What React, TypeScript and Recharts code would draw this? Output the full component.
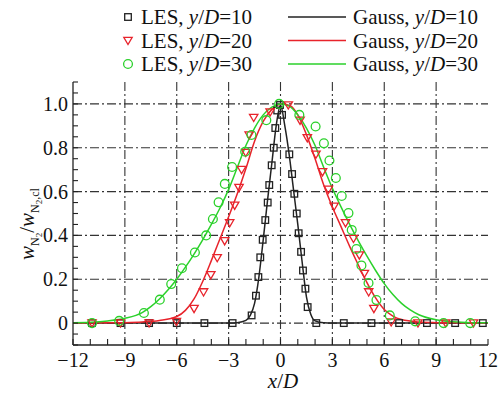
import React from "react";
import {
  ComposedChart, Line, Scatter, XAxis, YAxis, CartesianGrid,
} from "recharts";

// LES samples, x/D vs normalised N2 mass fraction
const les10 = [
  { x: -10.9, y: 0 }, { x: -9.25, y: 0 }, { x: -7.6, y: 0 }, { x: -6.0, y: 0 },
  { x: -4.4, y: 0 }, { x: -2.77, y: 0 }, { x: -1.67, y: 0.035 }, { x: -1.42, y: 0.125 },
  { x: -1.28, y: 0.21 }, { x: -1.17, y: 0.3 }, { x: -1.03, y: 0.38 }, { x: -0.88, y: 0.47 },
  { x: -0.74, y: 0.55 }, { x: -0.65, y: 0.63 }, { x: -0.51, y: 0.72 }, { x: -0.39, y: 0.8 },
  { x: -0.3, y: 0.89 }, { x: -0.19, y: 0.97 }, { x: -0.03, y: 0.995 }, { x: 0.09, y: 0.95 },
  { x: 0.51, y: 0.77 }, { x: 0.67, y: 0.68 }, { x: 0.8, y: 0.59 }, { x: 0.94, y: 0.5 },
  { x: 1.05, y: 0.41 }, { x: 1.19, y: 0.325 }, { x: 1.3, y: 0.24 }, { x: 1.44, y: 0.157 },
  { x: 1.57, y: 0.073 }, { x: 2.07, y: 0 }, { x: 3.66, y: 0 }, { x: 5.26, y: 0 },
  { x: 6.86, y: 0 }, { x: 8.47, y: 0 }, { x: 10.1, y: 0 }, { x: 11.7, y: 0 },
];
const les20 = [
  { x: -10.9, y: 0 }, { x: -9.25, y: 0 }, { x: -7.6, y: 0 }, { x: -6.02, y: 0.007 },
  { x: -5.0, y: 0.066 }, { x: -4.45, y: 0.142 }, { x: -4.03, y: 0.22 }, { x: -3.66, y: 0.298 },
  { x: -3.23, y: 0.375 }, { x: -2.94, y: 0.457 }, { x: -2.65, y: 0.537 }, { x: -2.4, y: 0.618 },
  { x: -2.25, y: 0.7 }, { x: -2.01, y: 0.778 }, { x: -1.81, y: 0.858 }, { x: -1.55, y: 0.938 },
  { x: -0.6, y: 0.963 }, { x: 0.45, y: 0.995 }, { x: 1.13, y: 0.925 }, { x: 1.55, y: 0.845 },
  { x: 2.05, y: 0.77 }, { x: 2.43, y: 0.69 }, { x: 2.77, y: 0.61 }, { x: 3.1, y: 0.533 },
  { x: 3.76, y: 0.457 }, { x: 4.22, y: 0.386 }, { x: 4.56, y: 0.31 }, { x: 4.85, y: 0.226 },
  { x: 5.1, y: 0.142 }, { x: 5.4, y: 0.066 }, { x: 6.4, y: 0.005 }, { x: 7.95, y: 0 },
  { x: 9.55, y: 0 }, { x: 11.16, y: 0 },
];
const les30 = [
  { x: -10.9, y: 0 }, { x: -9.33, y: 0.01 }, { x: -7.9, y: 0.046 }, { x: -6.98, y: 0.107 },
  { x: -6.32, y: 0.178 }, { x: -5.7, y: 0.25 }, { x: -4.95, y: 0.322 }, { x: -4.3, y: 0.4 },
  { x: -3.91, y: 0.475 }, { x: -3.58, y: 0.551 }, { x: -3.22, y: 0.635 }, { x: -2.8, y: 0.712 },
  { x: -2.04, y: 0.782 }, { x: -1.68, y: 0.858 }, { x: -0.82, y: 0.926 }, { x: -0.08, y: 1.0 },
  { x: 1.09, y: 0.95 }, { x: 2.03, y: 0.897 }, { x: 2.51, y: 0.82 }, { x: 2.83, y: 0.742 },
  { x: 3.2, y: 0.662 }, { x: 3.54, y: 0.58 }, { x: 3.93, y: 0.502 }, { x: 4.12, y: 0.425 },
  { x: 4.39, y: 0.338 }, { x: 4.68, y: 0.263 }, { x: 5.09, y: 0.183 }, { x: 5.55, y: 0.105 },
  { x: 6.32, y: 0.035 }, { x: 7.79, y: 0.008 }, { x: 9.43, y: 0 }, { x: 10.97, y: 0 },
];

// Gauss fits
const gauss10 = [
  { x: -12, y: 0 }, { x: -3, y: 0 }, { x: -2.5, y: 0.002 }, { x: -2, y: 0.012 },
  { x: -1.75, y: 0.035 }, { x: -1.5, y: 0.09 }, { x: -1.25, y: 0.21 }, { x: -1, y: 0.38 },
  { x: -0.75, y: 0.56 }, { x: -0.5, y: 0.73 }, { x: -0.25, y: 0.9 }, { x: 0, y: 0.995 },
  { x: 0.25, y: 0.9 }, { x: 0.5, y: 0.77 }, { x: 0.75, y: 0.61 }, { x: 1, y: 0.45 },
  { x: 1.25, y: 0.28 }, { x: 1.5, y: 0.12 }, { x: 1.75, y: 0.04 }, { x: 2, y: 0.01 },
  { x: 2.5, y: 0.001 }, { x: 3, y: 0 }, { x: 12, y: 0 },
];
const gauss20 = [
  { x: -12, y: 0 }, { x: -10, y: 0.001 }, { x: -9, y: 0.002 }, { x: -8, y: 0.005 },
  { x: -7, y: 0.012 }, { x: -6, y: 0.03 }, { x: -5.5, y: 0.058 }, { x: -5, y: 0.11 },
  { x: -4.5, y: 0.19 }, { x: -4, y: 0.285 }, { x: -3.5, y: 0.385 }, { x: -3, y: 0.485 },
  { x: -2.5, y: 0.59 }, { x: -2, y: 0.705 }, { x: -1.5, y: 0.83 }, { x: -1, y: 0.92 },
  { x: -0.5, y: 0.975 }, { x: 0.1, y: 1.0 }, { x: 0.6, y: 0.99 }, { x: 1, y: 0.95 },
  { x: 1.5, y: 0.86 }, { x: 2, y: 0.75 }, { x: 2.5, y: 0.63 }, { x: 3, y: 0.53 },
  { x: 3.5, y: 0.44 }, { x: 4, y: 0.35 }, { x: 4.5, y: 0.265 }, { x: 5, y: 0.185 },
  { x: 5.5, y: 0.115 }, { x: 6, y: 0.062 }, { x: 6.5, y: 0.032 }, { x: 7, y: 0.016 },
  { x: 8, y: 0.005 }, { x: 9, y: 0.002 }, { x: 10, y: 0.001 }, { x: 12, y: 0 },
];
const gauss30 = [
  { x: -12, y: 0.002 }, { x: -11, y: 0.004 }, { x: -10, y: 0.01 }, { x: -9, y: 0.022 },
  { x: -8, y: 0.048 }, { x: -7.5, y: 0.075 }, { x: -7, y: 0.11 }, { x: -6.5, y: 0.152 },
  { x: -6, y: 0.2 }, { x: -5.5, y: 0.255 }, { x: -5, y: 0.315 }, { x: -4.5, y: 0.38 },
  { x: -4, y: 0.45 }, { x: -3.5, y: 0.525 }, { x: -3, y: 0.61 }, { x: -2.5, y: 0.71 },
  { x: -2, y: 0.81 }, { x: -1.5, y: 0.89 }, { x: -1, y: 0.95 }, { x: -0.5, y: 0.985 },
  { x: 0, y: 1.0 }, { x: 0.5, y: 0.99 }, { x: 1, y: 0.95 }, { x: 1.5, y: 0.89 },
  { x: 2, y: 0.81 }, { x: 2.5, y: 0.71 }, { x: 3, y: 0.615 }, { x: 3.5, y: 0.53 },
  { x: 4, y: 0.45 }, { x: 4.5, y: 0.375 }, { x: 5, y: 0.305 }, { x: 5.5, y: 0.24 },
  { x: 6, y: 0.18 }, { x: 6.5, y: 0.13 }, { x: 7, y: 0.09 }, { x: 7.5, y: 0.06 },
  { x: 8, y: 0.038 }, { x: 9, y: 0.015 }, { x: 10, y: 0.006 }, { x: 11, y: 0.002 },
  { x: 12, y: 0.001 },
];

const xMinorTicks = [-12, -11, -10, -9, -8, -7, -6, -5, -4, -3, -2, -1, 0, 1, 2, 3, 4, 5, 6, 7, 8, 9, 10, 11, 12];
const xMajorTicks = [-12, -9, -6, -3, 0, 3, 6, 9, 12];
const xGrid = [-9, -6, -3, 0, 3, 6, 9];
const yMinorTicks = [-0.1, -0.05, 0, 0.05, 0.1, 0.15, 0.2, 0.25, 0.3, 0.35, 0.4, 0.45, 0.5, 0.55, 0.6, 0.65, 0.7, 0.75, 0.8, 0.85, 0.9, 0.95, 1.0, 1.05, 1.1];
const yMajorTicks = [0, 0.2, 0.4, 0.6, 0.8, 1.0];

const BLACK = "#222";
const RED = "#e8232b";
const GREEN = "#2bd12b";
const FONT = "'Liberation Serif', 'Times New Roman', serif";

const isMajorY = (v: number) => yMajorTicks.some((t) => Math.abs(t - v) < 1e-6);
const fmtX = (v: number) => (v < 0 ? "\u2212" + Math.abs(v) : String(v));

const BottomTick = (p: any) => {
  const v = p.payload.value;
  const major = v % 3 === 0;
  return (
    <g>
      <line x1={p.x} x2={p.x} y1={p.y} y2={p.y - 6} stroke={BLACK} strokeWidth={1.1} />
      {major && (
        <text x={p.x} y={p.y + 22} textAnchor="middle" fontFamily={FONT} fontSize={20} fill="#111">
          {fmtX(v)}
        </text>
      )}
    </g>
  );
};
const TopTick = (p: any) => (
  <line x1={p.x} x2={p.x} y1={p.y} y2={p.y + 6} stroke={BLACK} strokeWidth={1.1} />
);
const LeftTick = (p: any) => {
  const v = p.payload.value;
  return (
    <g>
      <line x1={p.x} x2={p.x + 5} y1={p.y} y2={p.y} stroke={BLACK} strokeWidth={1.1} />
      {isMajorY(v) && (
        <text x={p.x - 5} y={p.y + 7} textAnchor="end" fontFamily={FONT} fontSize={20} fill="#111">
          {Math.abs(v) < 1e-9 ? "0" : v.toFixed(1)}
        </text>
      )}
    </g>
  );
};
const RightTick = (p: any) => (
  <line x1={p.x} x2={p.x - 6} y1={p.y} y2={p.y} stroke={BLACK} strokeWidth={1.1} />
);

const Square = ({ cx, cy, stroke }: any) => (
  <rect x={cx - 3.3} y={cy - 3.3} width={6.6} height={6.6} fill="none" stroke={stroke} strokeWidth={1.3} />
);
const TriDown = ({ cx, cy, stroke }: any) => (
  <path d={`M${cx - 4.2},${cy - 3.2} L${cx + 4.2},${cy - 3.2} L${cx},${cy + 4} Z`} fill="none" stroke={stroke} strokeWidth={1.3} />
);
const Ring = ({ cx, cy, stroke }: any) => (
  <circle cx={cx} cy={cy} r={4.4} fill="none" stroke={stroke} strokeWidth={1.3} />
);

const legendRows = [
  { les: "10", color: BLACK, marker: "square", y: 17 },
  { les: "20", color: RED, marker: "tri", y: 40.5 },
  { les: "30", color: GREEN, marker: "ring", y: 64 },
];

function Overlay() {
  return (
    <svg width={500} height={394} style={{ position: "absolute", left: 0, top: 0, pointerEvents: "none" }}>
      {legendRows.map((r) => (
        <g key={r.les}>
          {r.marker === "square" && <Square cx={128} cy={r.y} stroke={r.color} />}
          {r.marker === "tri" && <TriDown cx={128} cy={r.y} stroke={r.color} />}
          {r.marker === "ring" && <Ring cx={128} cy={r.y} stroke={r.color} />}
          <text x={141} y={r.y + 7} fontFamily={FONT} fontSize={21} fill="#111">
            LES, <tspan fontStyle="italic">y</tspan>/<tspan fontStyle="italic">D</tspan>={r.les}
          </text>
          <line x1={288} x2={346} y1={r.y} y2={r.y} stroke={r.color} strokeWidth={1.5} />
          <text x={353} y={r.y + 7} fontFamily={FONT} fontSize={21} fill="#111">
            Gauss, <tspan fontStyle="italic">y</tspan>/<tspan fontStyle="italic">D</tspan>={r.les}
          </text>
        </g>
      ))}
      <text x={283} y={388} textAnchor="middle" fontFamily={FONT} fontSize={21} fill="#111">
        <tspan fontStyle="italic">x</tspan>/<tspan fontStyle="italic">D</tspan>
      </text>
      <text transform="translate(34,224) rotate(-90)" textAnchor="middle" fontFamily={FONT} fontSize={21} fill="#111">
        <tspan fontStyle="italic">w</tspan>
        <tspan fontSize={12} dy={5}>N</tspan>
        <tspan fontSize={9} dy={3}>2</tspan>
        <tspan dy={-8}>/</tspan>
        <tspan fontStyle="italic">w</tspan>
        <tspan fontSize={12} dy={5}>N</tspan>
        <tspan fontSize={9} dy={3}>2</tspan>
        <tspan fontSize={12} dy={-3}>,cl</tspan>
      </text>
    </svg>
  );
}

export default function App() {
  return (
    <div style={{ position: "absolute", left: 0, top: 0, width: 500, height: 394, background: "#fff" }}>
      <ComposedChart width={500} height={394} margin={{ top: 82, right: 12, bottom: 0, left: 0 }}>
        <XAxis xAxisId="b" type="number" dataKey="x" domain={[-12, 12]} allowDataOverflow
               ticks={xMinorTicks} interval={0} height={49} tickSize={0} tickMargin={0}
               tickLine={false} tick={<BottomTick />} axisLine={{ stroke: BLACK, strokeWidth: 1.3 }} />
        <XAxis xAxisId="t" orientation="top" type="number" dataKey="x" domain={[-12, 12]} allowDataOverflow
               ticks={xMajorTicks} interval={0} height={0} tickSize={0} tickMargin={0}
               tickLine={false} tick={<TopTick />} axisLine={{ stroke: BLACK, strokeWidth: 1.3 }} />
        <YAxis yAxisId="l" type="number" domain={[-0.1, 1.1]} allowDataOverflow
               ticks={yMinorTicks} interval={0} width={73} tickSize={0} tickMargin={0}
               tickLine={false} tick={<LeftTick />} axisLine={{ stroke: BLACK, strokeWidth: 1.3 }} />
        <YAxis yAxisId="r" orientation="right" type="number" domain={[-0.1, 1.1]} allowDataOverflow
               ticks={yMajorTicks} interval={0} width={0} tickSize={0} tickMargin={0}
               tickLine={false} tick={<RightTick />} axisLine={{ stroke: BLACK, strokeWidth: 1.3 }} />
        <CartesianGrid xAxisId="b" yAxisId="l" verticalValues={xGrid} horizontalValues={yMajorTicks}
                       stroke="#333" strokeWidth={1.1} strokeDasharray="9 3 2 3" />
        <Line xAxisId="b" yAxisId="l" data={gauss10} dataKey="y" type="monotone" stroke={BLACK}
              strokeWidth={1.5} dot={false} isAnimationActive={false} />
        <Line xAxisId="b" yAxisId="l" data={gauss20} dataKey="y" type="monotone" stroke={RED}
              strokeWidth={1.5} dot={false} isAnimationActive={false} />
        <Line xAxisId="b" yAxisId="l" data={gauss30} dataKey="y" type="monotone" stroke={GREEN}
              strokeWidth={1.5} dot={false} isAnimationActive={false} />
        <Scatter xAxisId="b" yAxisId="l" data={les10} dataKey="y" stroke={BLACK}
                 shape={(p: any) => <Square {...p} stroke={BLACK} />} isAnimationActive={false} />
        <Scatter xAxisId="b" yAxisId="l" data={les20} dataKey="y" stroke={RED}
                 shape={(p: any) => <TriDown {...p} stroke={RED} />} isAnimationActive={false} />
        <Scatter xAxisId="b" yAxisId="l" data={les30} dataKey="y" stroke={GREEN}
                 shape={(p: any) => <Ring {...p} stroke={GREEN} />} isAnimationActive={false} />
      </ComposedChart>
      <Overlay />
    </div>
  );
}
